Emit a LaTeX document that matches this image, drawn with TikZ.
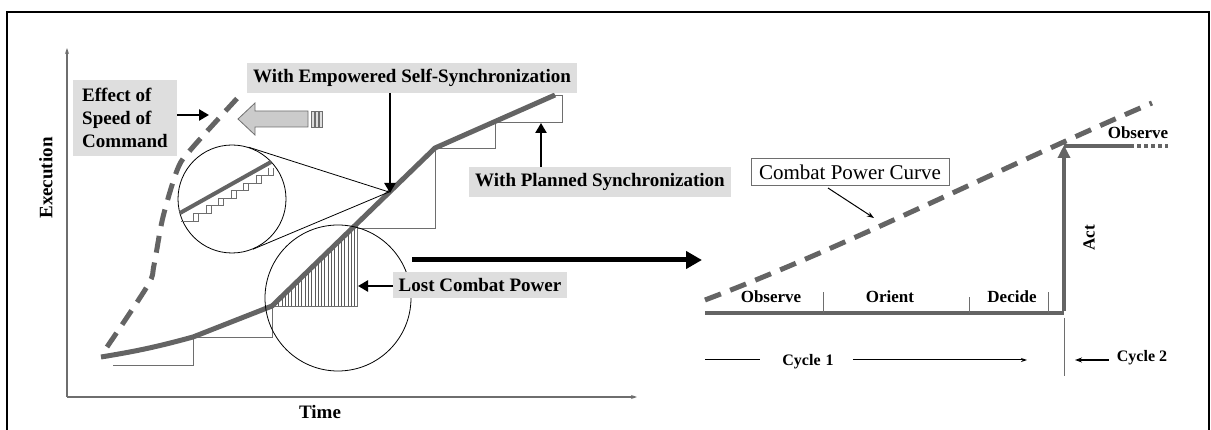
\documentclass[tikz,border=0pt]{standalone}
\usepackage{fontspec}
\setmainfont{Liberation Serif}
\usetikzlibrary{arrows.meta,calc}
\definecolor{curvegray}{RGB}{100,100,100}
\definecolor{thingray}{RGB}{110,110,110}
\definecolor{boxgray}{RGB}{222,222,222}
\begin{document}
\begin{tikzpicture}[x=1pt,y=-1pt,
    every node/.style={inner sep=0pt},
    lbl/.style={fill=boxgray,font=\fontsize{19}{23}\selectfont\bfseries,inner xsep=6pt,inner ysep=6pt},
    phase/.style={font=\fontsize{17}{20}\selectfont\bfseries},
    thickline/.style={curvegray,line width=5pt,line join=round},
    stepline/.style={thingray,line width=0.9pt},
    hatch/.style={curvegray!90!black,line width=0.8pt},
    dashcurve/.style={curvegray,line width=5pt,dash pattern=on 17pt off 10pt},
    pointer/.style={line width=2.4pt,-{Triangle[length=10pt,width=11pt]}},
    bigpointer/.style={line width=5pt,-{Triangle[length=16pt,width=17pt]}},
    thinpointer/.style={line width=1pt,-{Stealth[length=7pt,width=5pt]}}]
\useasboundingbox (0,0) rectangle (1211,430);
\draw[line width=2pt] (7,12) rectangle (1209,440);

% left chart: axes
\coordinate (origin) at (67,397);
\coordinate (ytop) at (67,48);
\coordinate (xend) at (637,397);
\draw[thingray,line width=1.2pt,-{Stealth[length=6pt,width=4pt]}] (origin) -- (ytop);
\draw[thingray,line width=1.2pt,-{Stealth[length=6pt,width=4pt]}] (origin) -- (xend);
\node[font=\fontsize{19}{22}\selectfont\bfseries,rotate=90] (execlbl) at (46,178) {Execution};
\node[font=\fontsize{19}{22}\selectfont\bfseries] (timelbl) at (320,412) {Time};

% planned steps and hatching
\coordinate (c0) at (101,357);
\coordinate (c1) at (193,337);
\coordinate (c2) at (272,306);
\coordinate (c3) at (435,148);
\coordinate (c4) at (555,95);
\draw[stepline] (113,365) -| (c1);
\draw[stepline] (c1) -| (c2);
\draw[stepline] (c2) -| (357,226);
\draw[stepline] (357,228) -| (c3);
\draw[stepline] (c3) -| (495,122);
\draw[stepline] (495,122) -| (562,95) -- (c4);
\foreach \hx in {275.3,278.6,...,356} {
  \draw[hatch] (\hx,306) -- (\hx,{306-(\hx-272)*158/163});
}

% curves
\draw[dashcurve] plot[smooth,tension=0.5] coordinates {(107,347) (148,285) (154,265) (163,217) (178,168) (193,147) (243,92)};
\draw[thickline] (c0) to[bend right=3] (c1) -- (c2) -- (c3) -- (c4);

% magnifiers
\node[circle,draw,line width=0.8pt,minimum size=108pt] (zoomin) at (232,199) {};
\node[circle,draw,line width=0.8pt,minimum size=146pt] (lostc) at (338,298) {};
\coordinate (zoompt) at (389,192);
\draw[line width=0.8pt] (zoompt) -- (tangent cs:node=zoomin,point={(zoompt)},solution=1);
\draw[line width=0.8pt] (zoompt) -- (tangent cs:node=zoomin,point={(zoompt)},solution=2);
\foreach \sx in {181,186} {
  \draw[stepline] (\sx,221) \foreach \k in {1,...,7} { -- ++(12.5,0) -- ++(0,-7.6) };
}
\draw[thickline,line width=4pt] (180,213) -- (271,162);

% gray arrow
\draw[thingray,fill=boxgray!80!gray,line width=0.8pt] (238,119) -- (255,103) -- (255,111) -- (308,111) -- (308,127) -- (255,127) -- (255,135) -- cycle;
\foreach \bx in {311,315,319} {
  \draw[thingray,fill=boxgray,line width=0.6pt] (\bx,111) rectangle ++(3,16);
}

% labels
\node[lbl,align=left,inner xsep=9pt,inner ysep=8pt] (effect) at (125,118) {Effect of\\Speed of\\Command};
\node[lbl] (empw) at (412,78) {With Empowered Self-Synchronization};
\node[lbl] (plan) at (600,182) {With Planned Synchronization};
\node[lbl] (lost) at (480,285) {Lost Combat Power};
\coordinate (effecttip) at (209,115);
\coordinate (empwtip) at (390,193);
\coordinate (plantip) at (541,123);
\coordinate (losttip) at (358,286);
\draw[pointer] (effect.east |- effecttip) -- (effecttip);
\draw[pointer] (empw.south -| empwtip) -- (empwtip);
\draw[pointer] (plan.north -| plantip) -- (plantip);
\draw[pointer] (lost.west |- losttip) -- (losttip);
\coordinate (bigstart) at (412,260);
\coordinate (bigtip) at (702,260);
\draw[bigpointer] (bigstart) -- (bigtip);

% right chart
\coordinate (obs0) at (705,313);
\coordinate (tick1) at (823,313);
\coordinate (tick2) at (969,313);
\coordinate (tick3) at (1048,313);
\coordinate (actbase) at (1064,313);
\coordinate (acttop) at (1064,145);
\coordinate (obs2end) at (1130,146);
\coordinate (dotend) at (1168,146);
\draw[dashcurve] (705,300) .. controls (850,245) and (1000,168) .. (1152,103);
\draw[thickline,line width=4pt] (obs0) -- (actbase);
\draw[thickline,line width=4pt,-{Triangle[length=13pt,width=12pt]}] ([yshift=2pt]actbase) -- (acttop);
\draw[thickline,line width=4pt] (1064,146) -- (obs2end);
\draw[curvegray,line width=4pt,dash pattern=on 4pt off 3pt] (obs2end) -- (dotend);
\draw[stepline] (tick1) -- ++(0,-21);
\draw[stepline] (tick2) -- ++(0,-16);
\draw[stepline] (tick3) -- ++(0,-21);
\node[phase] (obs1) at (771,297) {Observe};
\node[phase] (orient) at (890,297) {Orient};
\node[phase] (decide) at (1012,297) {Decide};
\node[phase,rotate=90] (act) at (1089,238) {Act};
\node[phase] (obs2) at (1138,133) {Observe};

\node[draw=thingray,line width=0.8pt,font=\fontsize{21}{24}\selectfont,inner xsep=8pt,inner ysep=6pt] (cpc) at (850,172) {Combat Power Curve};
\coordinate (cpcfoot) at (828,188);
\coordinate (cpctip) at (874,218);
\draw[thinpointer] (cpcfoot) -- (cpctip);

\node[font=\fontsize{16}{19}\selectfont\bfseries] (cyc1) at (808,362) {Cycle\hspace{5pt}1};
\node[font=\fontsize{16}{19}\selectfont\bfseries] (cyc2) at (1142,358) {Cycle 2};
\coordinate (cyc1l) at (705,360);
\coordinate (cyc1r) at (1027,360);
\coordinate (cyc2tip) at (1075,360);
\draw[line width=1pt] (cyc1l) -- ($(cyc1.west |- cyc1l)+(-22,0)$);
\draw[thinpointer,-{Stealth[length=6pt,width=4pt]}] ($(cyc1.east |- cyc1l)+(19,0)$) -- (cyc1r);
\draw[thinpointer,line width=1.4pt] ($(cyc2.west |- cyc2tip)+(-8,0)$) -- (cyc2tip);
\draw[thingray,line width=1pt] (1064,318) -- (1064,376);
\end{tikzpicture}
\end{document}
